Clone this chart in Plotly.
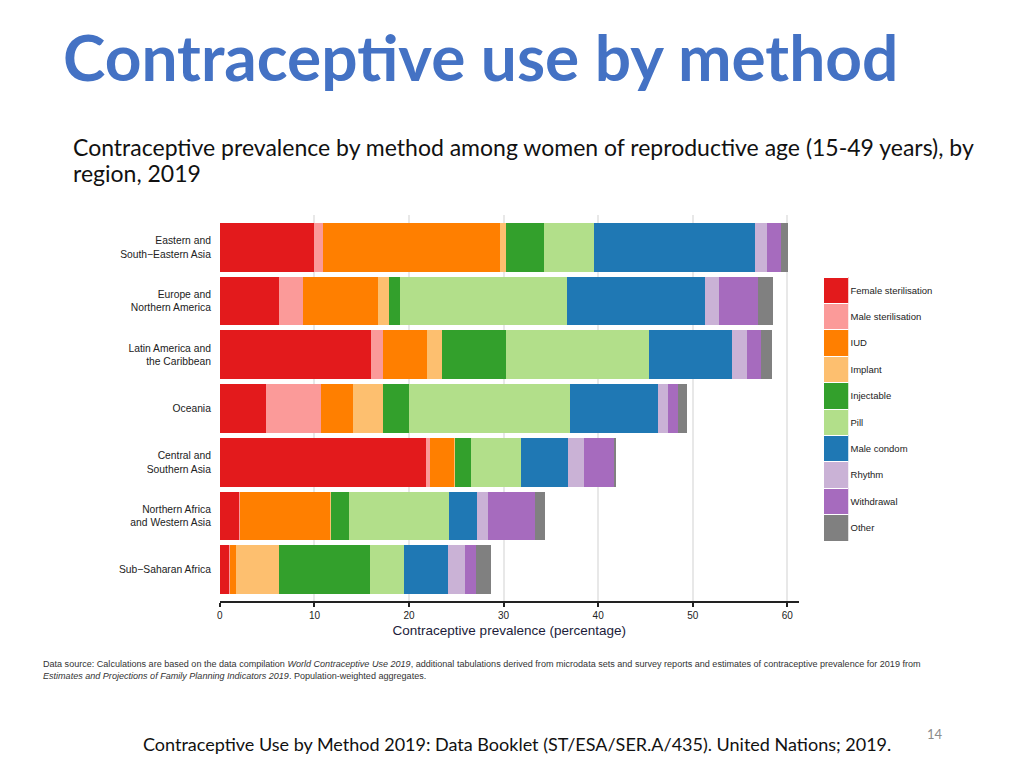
import plotly.graph_objects as go

regions = ["Eastern and<br>South\u2212Eastern Asia", "Europe and<br>Northern America",
           "Latin America and<br>the Caribbean", "Oceania", "Central and<br>Southern Asia",
           "Northern Africa<br>and Western Asia", "Sub\u2212Saharan Africa"]
methods = ["Female sterilisation", "Male sterilisation", "IUD", "Implant", "Injectable",
           "Pill", "Male condom", "Rhythm", "Withdrawal", "Other"]
colors = ["#e31a1c", "#fb9a99", "#ff7f00", "#fdbf6f", "#33a02c",
          "#b2df8a", "#1f78b4", "#cab2d6", "#a66bbe", "#808080"]

# values per method, ordered as regions
female_ster = [10.0, 6.2, 16.0, 4.9, 21.8, 2.1, 1.05]
male_ster = [0.9, 2.6, 1.3, 5.8, 0.4, 0.05, 0.05]
iud = [18.7, 7.95, 4.6, 3.4, 2.6, 9.5, 0.65]
implant = [0.65, 1.1, 1.6, 3.1, 0.1, 0.15, 4.45]
injectable = [4.05, 1.15, 6.8, 2.8, 1.7, 1.9, 9.7]
pill = [5.3, 17.75, 15.05, 17.0, 5.2, 10.5, 3.6]
male_condom = [17.0, 14.55, 8.8, 9.3, 5.0, 3.0, 4.6]
rhythm = [1.3, 1.5, 1.6, 1.05, 1.65, 1.1, 1.8]
withdrawal = [1.4, 4.1, 1.5, 1.05, 3.25, 5.0, 1.2]
other = [0.8, 1.6, 1.1, 1.0, 0.2, 1.1, 1.6]
series = [female_ster, male_ster, iud, implant, injectable, pill, male_condom, rhythm, withdrawal, other]

x_ticks = [0, 10, 20, 30, 40, 50, 60]

W, H = 1024, 768
OFF = 8  # page offset of the figure in the browser


def px(x):
    return (x - OFF) / W


def py(y):
    return 1 - (y - OFF) / H


fig = go.Figure()
for name, col, vals in zip(methods, colors, series):
    fig.add_trace(go.Bar(x=vals, y=regions, orientation="h", name=name,
                         marker=dict(color=col, line=dict(width=0)), width=0.905,
                         showlegend=False, xaxis="x", yaxis="y"))

# legend as a stack of colored squares
for name, col in zip(methods, colors):
    fig.add_trace(go.Bar(x=[1], y=[name], orientation="h",
                         marker=dict(color=col, line=dict(width=1, color="white")),
                         width=1, showlegend=False, xaxis="x2", yaxis="y2", hoverinfo="name"))

fig.update_layout(
    width=W, height=H, margin=dict(l=0, r=0, t=0, b=0),
    plot_bgcolor="white", paper_bgcolor="white", barmode="stack",
    font=dict(family="Liberation Sans", color="#222222"),
    xaxis=dict(domain=[px(217.5), px(798)], range=[0, 61.2], tickvals=x_ticks,
               showgrid=True, gridcolor="#e8e8e8", gridwidth=1.5, zeroline=False,
               showline=True, linecolor="#222222", linewidth=1.5,
               ticks="outside", ticklen=4, tickwidth=1.5, tickcolor="#222222",
               tickfont=dict(size=10, color="#222222"),
               title=dict(text="Contraceptive prevalence (percentage)", font=dict(size=13.5, color="#1c1c3a"), standoff=6),
               anchor="y"),
    yaxis=dict(domain=[py(601), py(215)], type="category", categoryarray=regions,
               range=[6.58, -0.6], showgrid=False, zeroline=False, showline=False,
               ticks="", tickfont=dict(size=10.3, color="#222222"), ticklabelstandoff=8, anchor="x"),
    xaxis2=dict(domain=[px(823), px(848)], range=[0, 1], visible=False, anchor="y2"),
    yaxis2=dict(domain=[py(541), py(277)], type="category", categoryarray=methods,
                range=[len(methods) - 0.5, -0.5], side="right", showgrid=False, zeroline=False,
                showline=False, ticks="", tickfont=dict(size=9.5, color="#222222"),
                ticklabelstandoff=1, anchor="x2"),
)

fig.add_annotation(text="<b>Contraceptive use by method</b>", x=px(58), y=py(56), xref="paper", yref="paper",
                   xanchor="left", yanchor="middle", showarrow=False,
                   font=dict(family="Lato", size=64, color="#4472C4"))
fig.add_annotation(text="Contraceptive prevalence by method among women of reproductive age (15-49 years), by",
                   x=px(68), y=py(147), xref="paper", yref="paper", xanchor="left", yanchor="middle",
                   align="left", showarrow=False, font=dict(family="Lato", size=23, color="#111111"))
fig.add_annotation(text="region, 2019",
                   x=px(68), y=py(173), xref="paper", yref="paper", xanchor="left", yanchor="middle",
                   align="left", showarrow=False, font=dict(family="Lato", size=23, color="#111111"))
fig.add_annotation(text="Data source: Calculations are based on the data compilation <i>World Contraceptive Use 2019</i>, additional tabulations derived from microdata sets and survey reports and estimates of contraceptive prevalence for 2019 from",
                   x=px(38), y=py(664), xref="paper", yref="paper", xanchor="left", yanchor="middle",
                   align="left", showarrow=False, font=dict(family="Liberation Sans", size=9.05, color="#333333"))
fig.add_annotation(text="<i>Estimates and Projections of Family Planning Indicators 2019</i>. Population-weighted aggregates.",
                   x=px(38), y=py(676), xref="paper", yref="paper", xanchor="left", yanchor="middle",
                   align="left", showarrow=False, font=dict(family="Liberation Sans", size=9.05, color="#333333"))
fig.add_annotation(text="Contraceptive Use by Method 2019: Data Booklet (ST/ESA/SER.A/435). United Nations; 2019.",
                   x=px(515), y=py(744), xref="paper", yref="paper", xanchor="center", yanchor="middle",
                   showarrow=False, font=dict(family="Lato", size=18, color="#111111"))
fig.add_annotation(text="14", x=px(935), y=py(734), xref="paper", yref="paper", xanchor="center", yanchor="middle",
                   showarrow=False, font=dict(family="Lato", size=13, color="#8c8c8c"))

fig.write_html("out.html")
